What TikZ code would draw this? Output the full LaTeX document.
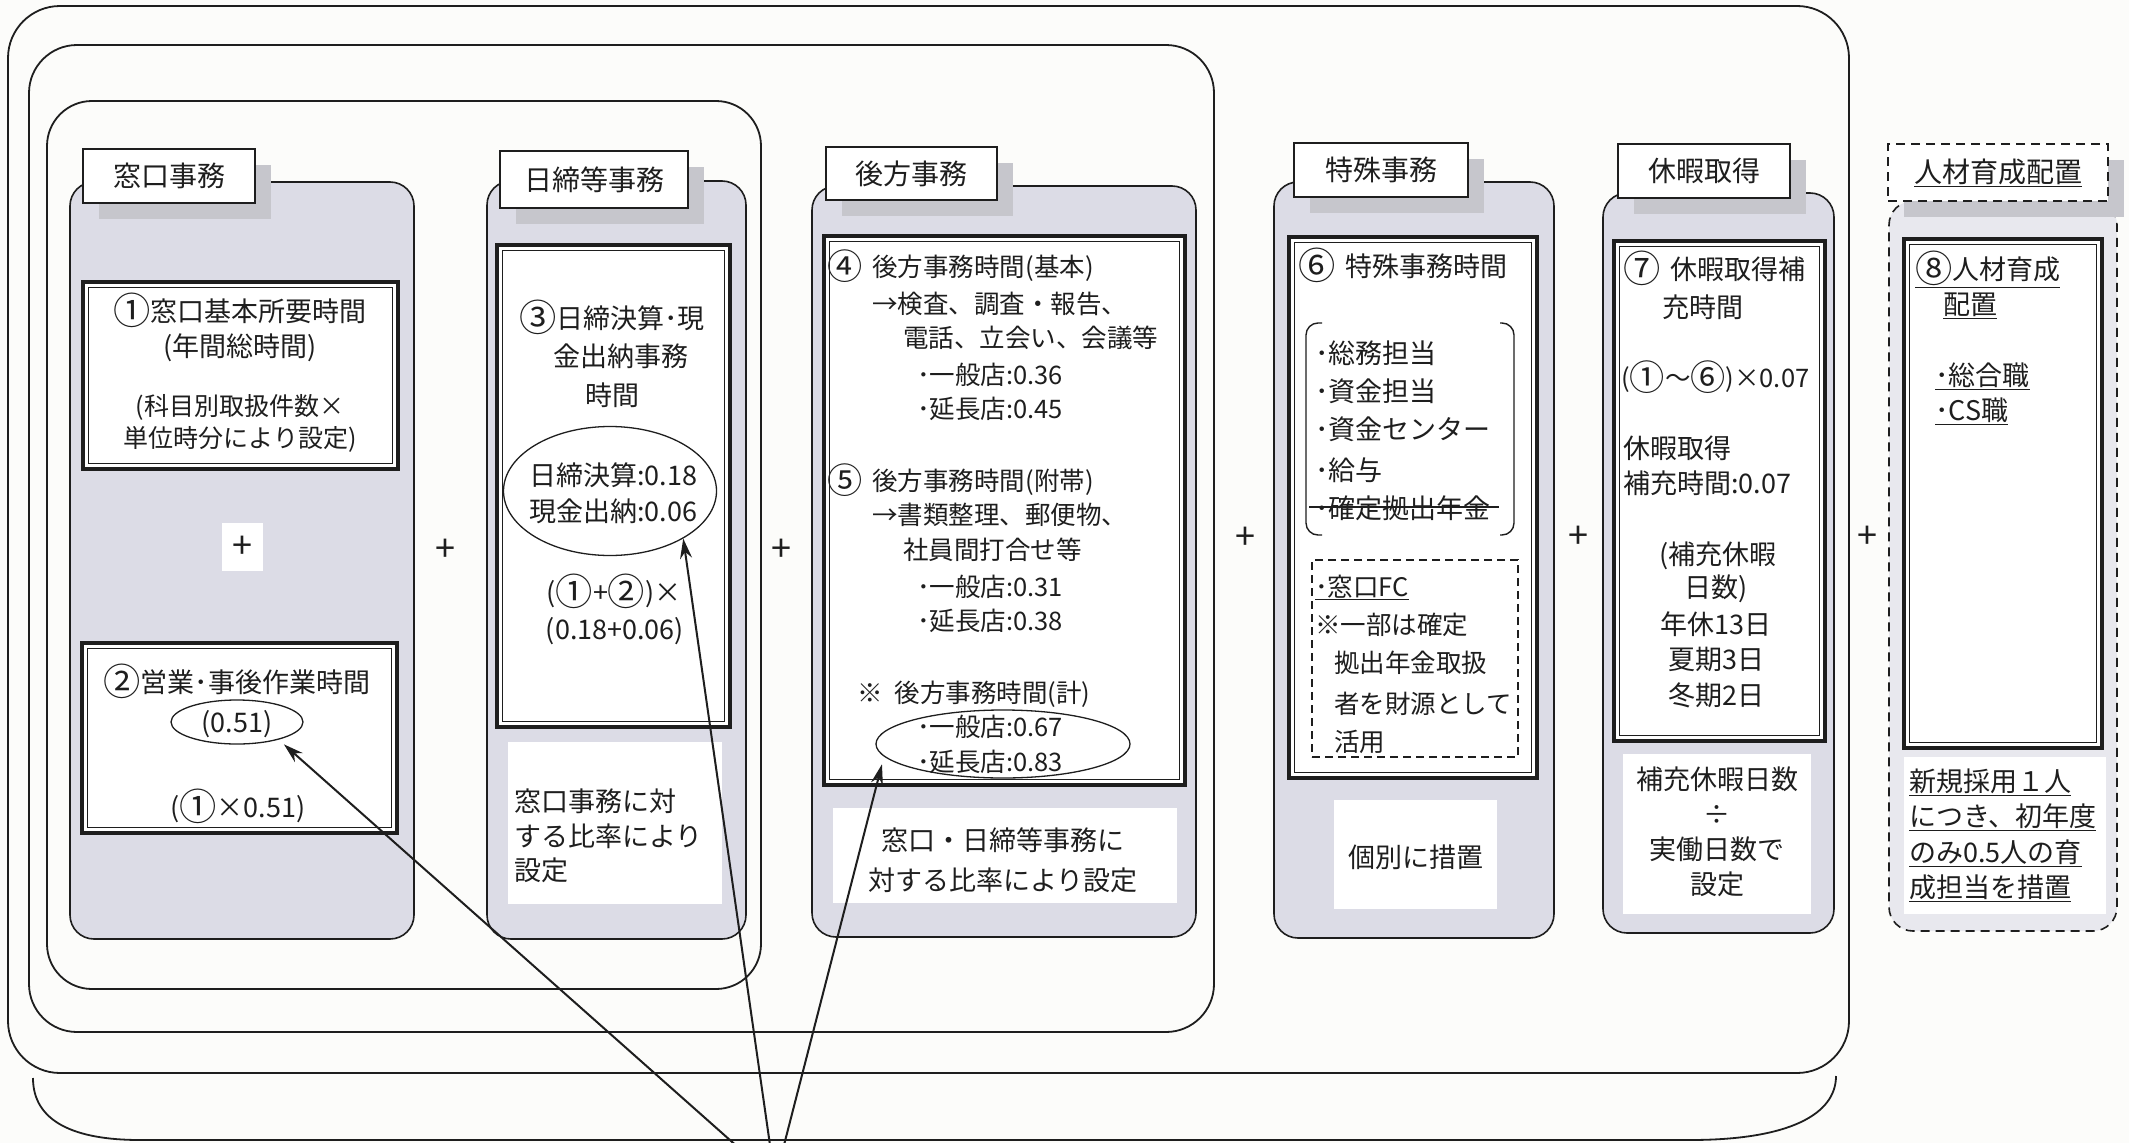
\documentclass[tikz,border=0pt]{standalone}
\usepackage{fontspec}
\newfontfamily\jp{Noto Sans CJK JP}
\usetikzlibrary{arrows.meta,shapes.geometric,fit,shadows}
\definecolor{bg}{HTML}{FCFCFA}
\definecolor{gfill}{HTML}{DCDCE6}
\definecolor{lfill}{HTML}{E8E8EE}
\definecolor{ink}{HTML}{1E1E1E}
\definecolor{shd}{HTML}{C6C6CC}
\newcommand\jpM{\jp\fontsize{27}{34}\selectfont}
\newcommand\jpB{\jp\fontsize{25.5}{32}\selectfont}
\newcommand\jpS{\jp\fontsize{25}{32}\selectfont}
\newcommand\jpT{\jp\fontsize{28}{34}\selectfont}
\newcommand\jpP{\jp\fontsize{36}{36}\selectfont}
\newcommand\cn[1]{\raisebox{-3.5pt}{\scalebox{1.38}{#1}}}
\begin{document}
\begin{tikzpicture}[x=1pt,y=-1pt,
  bigframe/.style={draw=ink, line width=1.8pt},
  gbox/.style={draw=ink, line width=1.6pt, fill=gfill, rounded corners=24pt, inner sep=0pt},
  tabbox/.style={draw=ink, line width=1.4pt, fill=white, inner sep=0pt, font=\jpT, text=ink, general shadow={fill=shd, shadow xshift=16pt, shadow yshift=-16pt}},
  dbox/.style={draw=ink, line width=3.5pt, fill=white, inner sep=0pt},
  inline/.style={draw=ink, line width=1.1pt},
  wrect/.style={fill=white, draw=none, inner sep=0pt},
  txt/.style={font=\jpM, text=ink, inner sep=0pt, text height=23.8pt, text depth=3.2pt},
  btxt/.style={txt, font=\jpB},
  stxt/.style={txt, font=\jpS},
  oval/.style={ellipse, draw=ink, line width=1.3pt, inner sep=0pt},
  arr/.style={draw=ink, line width=2pt, -{Stealth[length=20pt,width=12pt]}},
  plus/.style={font=\jpP, text=ink, inner sep=0pt},
  dsh/.style={dash pattern=on 9pt off 6pt}
]
\useasboundingbox (0,0) rectangle (2129,1143);
\clip (0,0) rectangle (2129,1143);
\fill[bg] (0,0) rectangle (2129,1143);

% nested frames
\draw[bigframe, rounded corners=52pt] (8,6) rectangle (1849,1073);
\draw[bigframe, rounded corners=48pt] (29,45) rectangle (1214,1032);
\draw[bigframe, rounded corners=45pt] (47,101) rectangle (761,989);
\draw[bigframe] (33,1078) .. controls (33,1122) and (75,1140) .. (140,1140) -- (1690,1140) .. controls (1790,1140) and (1836,1114) .. (1836,1076);

% gray boxes
\node[gbox, fit={(70,182) (414,939)}] (g1) {};
\node[gbox, fit={(487,181) (746,939)}] (g2) {};
\node[gbox, fit={(812,186) (1196,937)}] (g3) {};
\node[gbox, fit={(1274,182) (1554,938)}] (g4) {};
\node[gbox, fit={(1603,193) (1834,933)}] (g5) {};
\node[gbox, fill=lfill, dsh, fit={(1889,201) (2117,931)}] (g6) {};

% tabs
\node[tabbox, minimum width=172pt, minimum height=54pt] (t1) at (169,176) {窓口事務};
\node[tabbox, minimum width=188pt, minimum height=57pt] (t2) at (594,179.5) {日締等事務};
\node[tabbox, minimum width=171pt, minimum height=53pt] (t3) at (911.5,173.5) {後方事務};
\node[tabbox, minimum width=174pt, minimum height=54pt] (t4) at (1381,170) {特殊事務};
\node[tabbox, minimum width=172pt, minimum height=54pt] (t5) at (1704,171) {休暇取得};
\node[tabbox, dsh, minimum width=220pt, minimum height=57pt] (t6) at (1998,172.5) {\underline{人材育成配置}};

% white text areas
\node[wrect, fit={(222,523) (263,571)}] (w1) {};
\node[wrect, fit={(508,742) (722,904)}] (w2) {};
\node[wrect, fit={(833,808) (1177,903)}] (w3) {};
\node[wrect, fit={(1334,800) (1497,909)}] (w4) {};
\node[wrect, fit={(1623,754) (1811,914)}] (w5) {};
\node[wrect, fit={(1904,757) (2106,914)}] (w6) {};

% double-framed boxes
\node[dbox, fit={(83,282) (398,469)}] (b1) {};
\node[dbox, fit={(82,643) (397,833)}] (b2) {};
\node[dbox, fit={(497,245) (730,727)}] (b3) {};
\node[dbox, fit={(824,236) (1185,785)}] (b4) {};
\node[dbox, fit={(1289,237) (1537,778)}] (b6) {};
\node[dbox, fit={(1614,241) (1825,741)}] (b7) {};
\node[dbox, fit={(1904,239) (2102,748)}] (b8) {};
\foreach \b in {b1,b2,b3,b4,b6,b7,b8}
  \draw[inline] ([shift={(7,7)}]\b.north west) rectangle ([shift={(-7,-7)}]\b.south east);

% box 1
\node[txt] (x1a) at (240,311) {\cn{①}窓口基本所要時間};
\node[txt] (x1b) at (240,346) {(年間総時間)};
\node[stxt] (x1c) at (240,405) {(科目別取扱件数×};
\node[stxt] (x1d) at (240,437) {単位時分により設定)};
\node[plus] (p0) at (242,547) {+};

% box 2
\node[txt] (x2a) at (237,682) {\cn{②}営業･事後作業時間};
\node[oval, minimum width=132pt, minimum height=44pt] (e2) at (237,722) {};
\node[txt] (x2b) at (237,722) {(0.51)};
\node[txt] (x2c) at (238,807) {(\cn{①}×0.51)};

% box 3
\node[txt] (x3a) at (612,318) {\cn{③}日締決算･現};
\node[txt] (x3b) at (621,356) {金出納事務};
\node[txt] (x3c) at (612,395) {時間};
\node[oval, minimum width=213pt, minimum height=129pt] (e3) at (610,491) {};
\node[txt] (x3d) at (613,475) {日締決算:0.18};
\node[txt] (x3e) at (613,511) {現金出納:0.06};
\node[txt] (x3f) at (614,592) {(\cn{①}+\cn{②})×};
\node[txt] (x3g) at (615,629) {(0.18+0.06)};
\node[txt, anchor=west] (x3h) at (514,801) {窓口事務に対};
\node[txt, anchor=west] (x3i) at (514,836) {する比率により};
\node[txt, anchor=west] (x3j) at (514,870) {設定};

% box 4/5
\foreach \px/\py/\lbl [count=\i] in {
  827/266/{\cn{④}\hspace{10pt}後方事務時間(基本)},
  872/303/{→検査、調査・報告、},
  903/337/{電話、立会い、会議等},
  917/374/{･一般店:0.36},
  917/408/{･延長店:0.45},
  827/480/{\cn{⑤}\hspace{10pt}後方事務時間(附帯)},
  872/514/{→書類整理、郵便物、},
  903/549/{社員間打合せ等},
  917/586/{･一般店:0.31},
  917/620/{･延長店:0.38},
  857/692/{※\hspace{12pt}後方事務時間(計)},
  917/726/{･一般店:0.67},
  917/761/{･延長店:0.83}}
  \node[btxt, anchor=west] (x4\i) at (\px,\py) {\lbl};
\node[oval, minimum width=254pt, minimum height=68pt] (e6) at (1003,744) {};
\node[txt] (x4n) at (1003,840) {窓口・日締等事務に};
\node[txt] (x4o) at (1003,880) {対する比率により設定};

% box 6
\node[txt, anchor=west] (x6a) at (1298,266) {\cn{⑥}\hspace{10pt}特殊事務時間};
\foreach \py/\lbl [count=\i] in {353/{･総務担当}, 391/{･資金担当}, 429/{･資金センター}, 470/{･給与}, 508/{･確定拠出年金}}
  \node[txt, anchor=west] (x6b\i) at (1315,\py) {\lbl};
\draw[ink, line width=1.3pt] (x6b5.west) ++(-6,-1) -- ([shift={(8,-1)}]x6b5.east);
\draw[ink, line width=1.4pt, rounded corners=12pt] (1322,323) -- (1306,323) -- (1306,535) -- (1322,535);
\draw[ink, line width=1.4pt, rounded corners=12pt] (1500,323) -- (1514,323) -- (1514,535) -- (1500,535);
\node[draw=ink, line width=1.5pt, dash pattern=on 8pt off 5pt, inner sep=0pt, fit={(1312,560) (1518,757)}] (d6) {};
\node[btxt, anchor=west] (x6c) at (1315,586) {\underline{･窓口FC}};
\node[btxt, anchor=west] (x6d) at (1315,624) {※一部は確定};
\node[btxt, anchor=west] (x6e) at (1334,662) {拠出年金取扱};
\node[btxt, anchor=west] (x6f) at (1334,703) {者を財源として};
\node[btxt, anchor=west] (x6g) at (1334,741) {活用};
\node[txt] (x6h) at (1416,857) {個別に措置};

% box 7
\node[txt, anchor=west] (x7a) at (1623,269) {\cn{⑦}\hspace{10pt}休暇取得補};
\node[txt, anchor=west] (x7b) at (1662,307) {充時間};
\node[btxt, anchor=west] (x7c) at (1621,377) {(\cn{①}～\cn{⑥})×0.07};
\node[txt, anchor=west] (x7d) at (1623,448) {休暇取得};
\node[txt, anchor=west] (x7e) at (1623,483) {補充時間:0.07};
\node[txt] (x7f) at (1718,554) {(補充休暇};
\node[txt] (x7g) at (1716,587) {日数)};
\node[txt] (x7h) at (1716,624) {年休13日};
\node[txt] (x7i) at (1716,659) {夏期3日};
\node[txt] (x7j) at (1716,695) {冬期2日};
\node[txt] (x7k) at (1717,779) {補充休暇日数};
\node[txt] (x7l) at (1717,814) {÷};
\node[txt] (x7m) at (1717,849) {実働日数で};
\node[txt] (x7n) at (1717,884) {設定};

% box 8
\node[txt, anchor=west] (x8a) at (1915,269) {\underline{\cn{⑧}人材育成}};
\node[txt, anchor=west] (x8b) at (1943,304) {\underline{配置}};
\node[txt, anchor=west] (x8c) at (1935,375) {\underline{･総合職}};
\node[txt, anchor=west] (x8d) at (1935,410) {\underline{･CS職}};
\node[txt, anchor=west] (x8e) at (1909,781) {\underline{新規採用１人}};
\node[txt, anchor=west] (x8f) at (1909,816) {\underline{につき、初年度}};
\node[txt, anchor=west] (x8g) at (1909,852) {\underline{のみ0.5人の育}};
\node[txt, anchor=west] (x8h) at (1909,887) {\underline{成担当を措置}};

% plus signs
\node[plus] (p1) at (445,550) {+};
\node[plus] (p2) at (781,550) {+};
\node[plus] (p3) at (1245,538) {+};
\node[plus] (p4) at (1578,537) {+};
\node[plus] (p5) at (1867,537) {+};

% arrows
\coordinate (apex) at (775,1180);
\draw[arr, shorten >=7pt] (apex) -- (e2.337);
\draw[arr] (apex) -- (e3.327);
\draw[arr, shorten >=8pt] (apex) -- (e6.186);
\end{tikzpicture}
\end{document}
